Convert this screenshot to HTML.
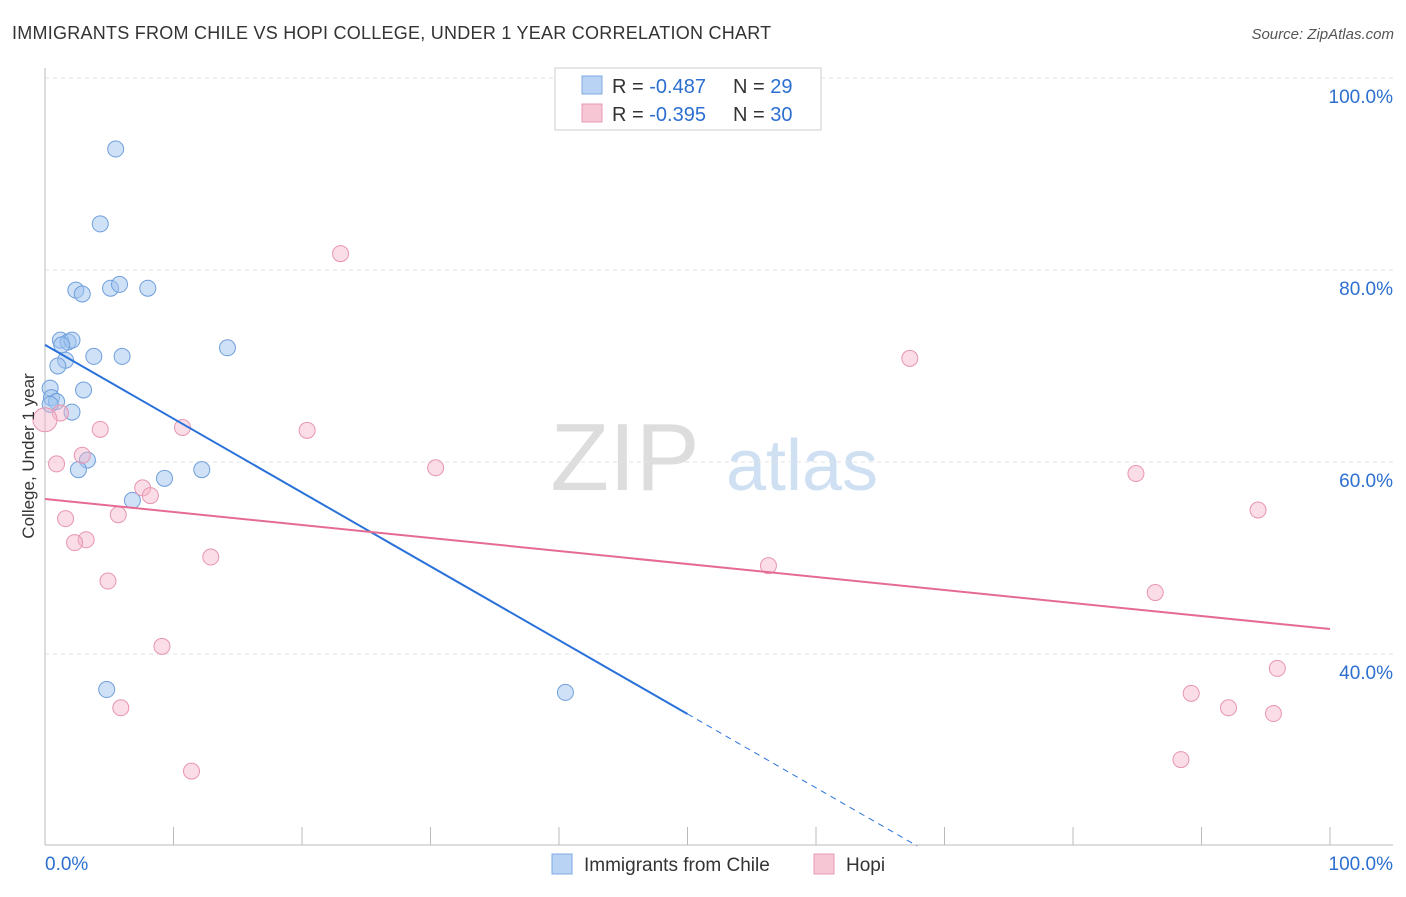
<!DOCTYPE html>
<html><head><meta charset="utf-8"><style>
body{margin:0;background:#fff;font-family:"Liberation Sans",sans-serif}
svg text{font-family:"Liberation Sans",sans-serif}
</style></head><body>
<svg id="c" width="1406" height="892" viewBox="0 0 1406 892">
<text x="12" y="39" font-size="18" fill="#333" letter-spacing="0.25">IMMIGRANTS FROM CHILE VS HOPI COLLEGE, UNDER 1 YEAR CORRELATION CHART</text>
<text x="1394" y="39" font-size="15" fill="#555" font-style="italic" text-anchor="end">Source: ZipAtlas.com</text>
<g><text x="625" y="490" font-size="96" fill="#ddd" text-anchor="middle" font-family="Liberation Serif">ZIP</text><text x="802" y="490" font-size="72" fill="#cfe0f3" text-anchor="middle">atlas</text></g>
<g id="grid"></g><g id="axes"></g><g id="marks"></g>
<text transform="translate(34,456) rotate(-90)" font-size="17" fill="#333" text-anchor="middle">College, Under 1 year</text>
<g>
<rect x="555" y="68" width="266" height="62" fill="#fff" stroke="#ccc"/>
<rect x="582" y="76" width="20" height="18" fill="#b9d3f5" stroke="#7fa9e0"/>
<text x="612" y="93" font-size="20" fill="#333">R = <tspan fill="#2c6fd1">-0.487</tspan></text>
<text x="733" y="93" font-size="20" fill="#333">N = <tspan fill="#2c6fd1">29</tspan></text>
<rect x="582" y="104" width="20" height="18" fill="#f7c6d5" stroke="#e99ab3"/>
<text x="612" y="121" font-size="20" fill="#333">R = <tspan fill="#2c6fd1">-0.395</tspan></text>
<text x="733" y="121" font-size="20" fill="#333">N = <tspan fill="#2c6fd1">30</tspan></text>
</g>
<g>
<rect x="552" y="854" width="20" height="20" fill="#b9d3f5" stroke="#7fa9e0"/>
<text x="584" y="871" font-size="19" fill="#333">Immigrants from Chile</text>
<rect x="814" y="854" width="20" height="20" fill="#f7c6d5" stroke="#e99ab3"/>
<text x="846" y="871" font-size="19" fill="#333">Hopi</text>
</g>
</svg>
<script>
const chileX=[5.5,4.3,2.4,2.9,5.1,5.8,8.0,1.2,1.8,2.1,1.3,3.8,6.0,14.2,1.6,1.0,0.4,3.0,0.5,0.9,0.4,2.1,3.3,2.6,9.3,12.2,6.8,4.8,40.5];
const chileY=[92.6,84.8,77.9,77.5,78.1,78.5,78.1,72.7,72.5,72.7,72.2,71.0,71.0,71.9,70.6,70.0,67.7,67.5,66.7,66.3,66.0,65.2,60.2,59.2,58.3,59.2,56.0,36.3,36.0];
const hopiX=[23.0,67.3,1.2,4.3,10.7,20.4,0.9,2.9,30.4,84.9,7.6,8.2,5.7,1.6,94.4,3.2,2.3,12.9,56.3,4.9,86.4,9.1,95.9,89.2,92.1,95.6,5.9,11.4,88.4,0];
const hopiY=[81.7,70.8,65.1,63.4,63.6,63.3,59.8,60.7,59.4,58.8,57.3,56.5,54.5,54.1,55.0,51.9,51.6,50.1,49.2,47.6,46.4,40.8,38.5,35.9,34.4,33.8,34.4,27.8,29.0,64.4];
const chileTrend=[72.2,33.75];
const hopiTrend=[56.15,42.6];
const yTicks=[100,80,60,40];
const yTickLabels=["100.0%","80.0%","60.0%","40.0%"];
const xTicks=[0,10,20,30,40,50,60,70,80,90,100];
const NS="http://www.w3.org/2000/svg";
const sx=v=>45+v*12.85, sy=v=>1038-v*9.6;
function mk(t,a,p){const e=document.createElementNS(NS,t);for(const k in a)e.setAttribute(k,a[k]);p.appendChild(e);return e;}
const grid=document.getElementById('grid'),axes=document.getElementById('axes'),marks=document.getElementById('marks');
yTicks.forEach((t,i)=>{
 const l=mk('line',{x1:45,x2:1393,y1:sy(t),y2:sy(t),stroke:'#e3e3e3','stroke-dasharray':'4,4'},grid);
 
 
 const tx=mk('text',{x:1393,y:sy(t)+25,'font-size':19,fill:'#2c6fd1','text-anchor':'end'},axes);
 tx.textContent=yTickLabels[i];
 
 
});
const xa=mk('line',{x1:45,x2:1393,y1:845,y2:845,stroke:'#bbb'},axes);


const ya=mk('line',{x1:45,x2:45,y1:68,y2:845,stroke:'#bbb'},axes);


xTicks.forEach(t=>{const l=mk('line',{x1:sx(t),x2:sx(t),y1:827,y2:845,stroke:'#bbb'},axes);
 
 });
[['0.0%',45,'start'],['100.0%',1393,'end']].forEach(a=>{const t=mk('text',{x:a[1],y:870,'font-size':19,fill:'#2c6fd1','text-anchor':a[2]},axes);t.textContent=a[0];
 
 });
chileX.forEach((x,i)=>{const c=mk('circle',{cx:sx(x),cy:sy(chileY[i]),r:8,fill:'rgba(160,196,240,0.5)',stroke:'#6f9fdc','stroke-width':1},marks);
 
 });
hopiX.forEach((x,i)=>{const c=mk('circle',{cx:sx(x),cy:sy(hopiY[i]),r:i==hopiX.length-1?12:8,fill:'rgba(245,180,200,0.45)',stroke:'#e895b0','stroke-width':1},marks);
 
 });
const slope=(chileTrend[1]-chileTrend[0])/50;
const xEnd=(20-chileTrend[0])/slope;
const bl=mk('line',{x1:sx(0),y1:sy(chileTrend[0]),x2:sx(50),y2:sy(chileTrend[1]),stroke:'#2a72d9','stroke-width':2},marks);


const bd=mk('line',{x1:sx(50),y1:sy(chileTrend[1]),x2:sx(xEnd),y2:sy(20),stroke:'#2a72d9','stroke-width':1,'stroke-dasharray':'6,5'},marks);


const pl=mk('line',{x1:sx(0),y1:sy(hopiTrend[0]),x2:sx(100),y2:sy(hopiTrend[1]),stroke:'#e56b93','stroke-width':2},marks);


</script>
</body></html>
